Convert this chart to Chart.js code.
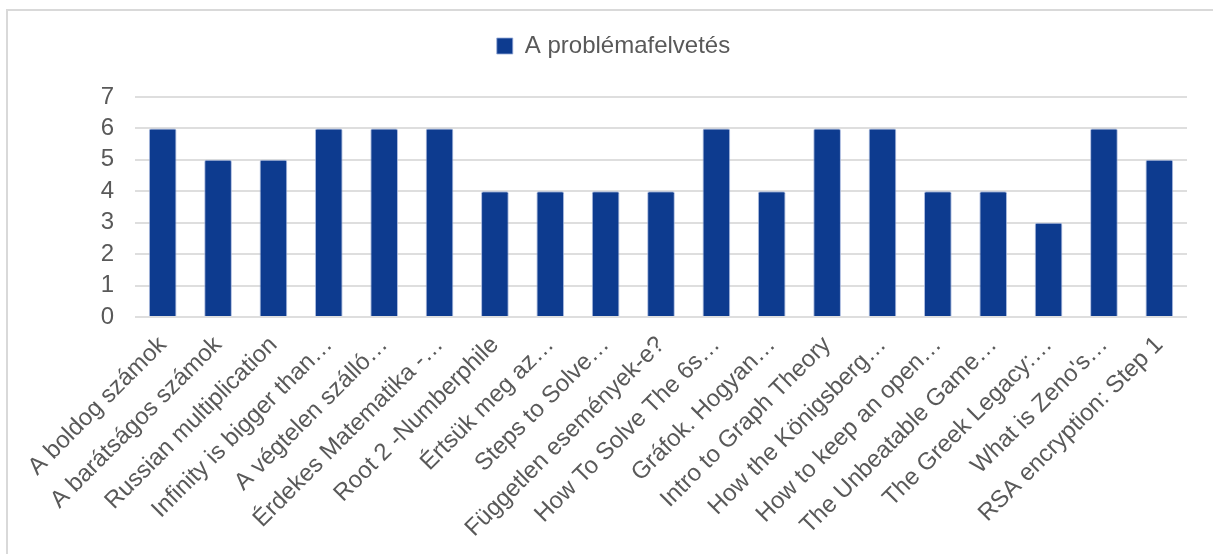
<!DOCTYPE html>
<html lang="hu">
<head>
    <meta charset="UTF-8">
    <title>A problémafelvetés</title>
    <script src="https://cdn.jsdelivr.net/npm/chart.js@4.4.1/dist/chart.umd.min.js"></script>
    <style>
        html, body {
            margin: 0;
            padding: 0;
            background: #ffffff;
            overflow: hidden;
        }
        .frame {
            position: absolute;
            left: 6px;
            top: 9px;
            width: 1300px;
            height: 700px;
            border: 2px solid #d9d9d9;
            box-sizing: border-box;
        }
        #problemChart {
            position: absolute;
            left: 0;
            top: 0;
        }
    </style>
</head>
<body>

<div class="frame"></div>
<canvas id="problemChart" width="1213" height="554"></canvas>

<script>
    const videoTitles = [
        'A boldog számok',
        'A barátságos számok',
        'Russian multiplication',
        'Infinity is bigger than…',
        'A végtelen szálló…',
        'Érdekes Matematika -…',
        'Root 2 -Numberphile',
        'Értsük meg az…',
        'Steps to Solve…',
        'Független események-e?',
        'How To Solve The 6s…',
        'Gráfok. Hogyan…',
        'Intro to Graph Theory',
        'How the Königsberg…',
        'How to keep an open…',
        'The Unbeatable Game…',
        'The Greek Legacy:…',
        'What is Zeno\'s…',
        'RSA encryption: Step 1'
    ];
    const problemScores = [6, 5, 5, 6, 6, 6, 4, 4, 4, 4, 6, 4, 6, 6, 4, 4, 3, 6, 5];
    const seriesName = 'A problémafelvetés';
    const yTicks = [0, 1, 2, 3, 4, 5, 6, 7];

    const textColor = '#595959';
    const gridColor = '#dedede';
    const barColor = '#0d3b8f';
    const fontFamily = "'Liberation Sans', Arial, sans-serif";

    // give the legend a fixed band so the plot starts lower,
    // and nudge it a little to the right
    const legendBand = {
        id: 'legendBand',
        beforeInit(chart) {
            const fit = chart.legend.fit;
            chart.legend.fit = function() {
                fit.bind(chart.legend)();
                this.height = 97;
            };
        },
        afterLayout(chart) {
            chart.legend.left += 40;
        }
    };

    const ctx = document.getElementById('problemChart').getContext('2d');
    new Chart(ctx, {
        type: 'bar',
        data: {
            labels: videoTitles,
            datasets: [{
                label: seriesName,
                data: problemScores,
                backgroundColor: barColor,
                borderColor: 'rgba(150, 170, 215, 0.8)',
                borderWidth: 1,
                borderSkipped: 'bottom',
                borderRadius: 2,
                barPercentage: 0.5,
                categoryPercentage: 1.0
            }]
        },
        options: {
            responsive: false,
            animation: false,
            layout: {
                padding: { top: 0, left: 0, right: 26, bottom: 0 }
            },
            plugins: {
                legend: {
                    position: 'top',
                    labels: {
                        color: textColor,
                        boxWidth: 16,
                        boxHeight: 16,
                        padding: 34,
                        font: { family: fontFamily, size: 24 }
                    }
                },
                tooltip: { enabled: false }
            },
            scales: {
                x: {
                    grid: { display: false, drawTicks: false },
                    border: { display: false },
                    ticks: {
                        color: textColor,
                        autoSkip: false,
                        minRotation: 45,
                        maxRotation: 45,
                        padding: 14,
                        font: { family: fontFamily, size: 24 }
                    },
                    afterFit(scale) {
                        scale.height = 237;
                    }
                },
                y: {
                    min: 0,
                    max: 7,
                    grid: { color: gridColor, lineWidth: 2, drawTicks: false },
                    border: { display: false },
                    afterBuildTicks(scale) {
                        scale.ticks = yTicks.map(v => ({ value: v }));
                    },
                    ticks: {
                        color: textColor,
                        autoSkip: false,
                        padding: 21,
                        font: { family: fontFamily, size: 24 }
                    },
                    afterFit(scale) {
                        scale.width = 135;
                    }
                }
            }
        },
        plugins: [legendBand]
    });
</script>
</body>
</html>
